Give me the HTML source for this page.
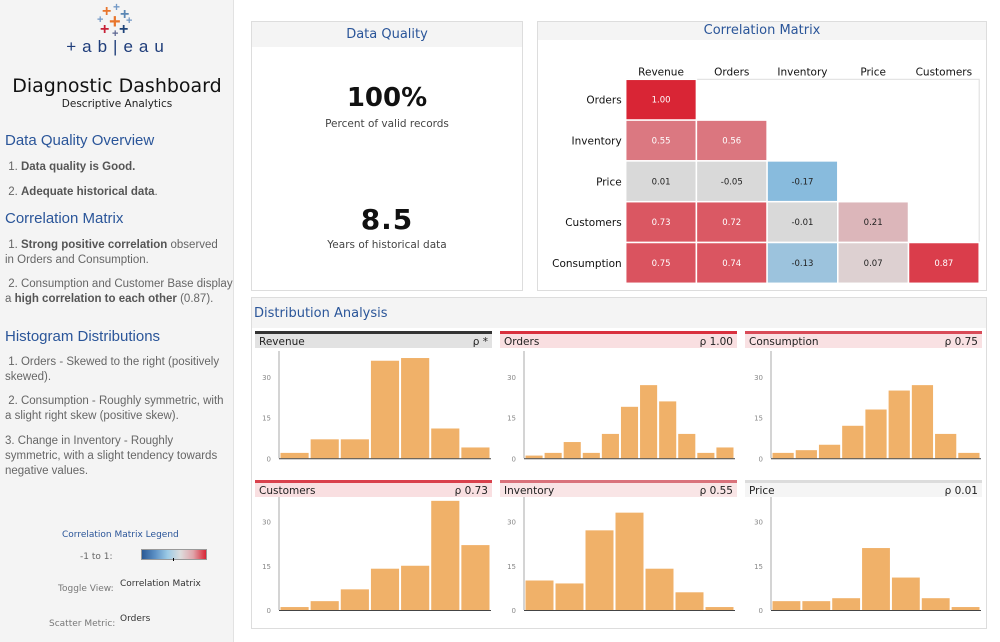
<!DOCTYPE html>
<html><head><meta charset="utf-8">
<style>
*{box-sizing:border-box;margin:0;padding:0}
body{width:1000px;height:642px;overflow:hidden;background:#fff;font-family:"DejaVu Sans","Liberation Sans",sans-serif;position:relative}
.abs{position:absolute}
#sidebar{left:0;top:0;width:234px;height:642px;background:#f4f4f4;border-right:1px solid #e2e2e2}
.h{color:#2a5599;font-size:15px;left:5px;font-family:"Liberation Sans",sans-serif}
.p{color:#666;font-size:11.5px;left:5px;width:224px;line-height:15px;font-family:"Liberation Sans",sans-serif}
.p b{color:#555}
.panel{border:1px solid #ddd;background:#fff}
.ptitle{color:#2a5599;font-size:13px;text-align:center}
.lg{font-family:"Liberation Sans",sans-serif;font-weight:bold;position:absolute;line-height:1}
</style></head><body>
<div id="sidebar" class="abs">
  <div class="abs" style="left:96px;top:3px;width:44px;height:36px">
    <span class="lg" style="left:6px;top:1px;color:#e8762d;font-size:16px">+</span>
    <span class="lg" style="left:17px;top:-2px;color:#7399c6;font-size:12px">+</span>
    <span class="lg" style="left:24px;top:4px;color:#5b87b4;font-size:16px">+</span>
    <span class="lg" style="left:1px;top:12px;color:#7399c6;font-size:11px">+</span>
    <span class="lg" style="left:13px;top:9px;color:#e8762d;font-size:20px">+</span>
    <span class="lg" style="left:30px;top:13px;color:#7399c6;font-size:11px">+</span>
    <span class="lg" style="left:4px;top:19px;color:#c72037;font-size:16px">+</span>
    <span class="lg" style="left:16px;top:26px;color:#5b6591;font-size:11px">+</span>
    <span class="lg" style="left:23px;top:19px;color:#1f447a;font-size:16px">+</span>
  </div>
  <div class="abs" style="left:66px;top:37px;width:104px;text-align:center;color:#1f3d7a;font-size:17px;letter-spacing:6px;font-family:'Liberation Sans',sans-serif">+ab|eau</div>
  <div class="abs" style="left:0;top:75px;width:234px;text-align:center;font-size:19px;color:#111">Diagnostic Dashboard</div>
  <div class="abs" style="left:0;top:98px;width:234px;text-align:center;font-size:10.5px;color:#222">Descriptive Analytics</div>
  <div class="abs h" style="top:132px">Data Quality Overview</div>
  <div class="abs p" style="top:160px">&nbsp;1. <b>Data quality is Good.</b></div>
  <div class="abs p" style="top:185px">&nbsp;2. <b>Adequate historical data</b>.</div>
  <div class="abs h" style="top:210px">Correlation Matrix</div>
  <div class="abs p" style="top:238px">&nbsp;1. <b>Strong positive correlation</b> observed in Orders and Consumption.</div>
  <div class="abs p" style="top:277px;width:230px">&nbsp;2. Consumption and Customer Base display a <b>high correlation to each other</b> (0.87).</div>
  <div class="abs h" style="top:328px">Histogram Distributions</div>
  <div class="abs p" style="top:355px">&nbsp;1. Orders - Skewed to the right (positively skewed).</div>
  <div class="abs p" style="top:394px">&nbsp;2. Consumption - Roughly symmetric, with a slight right skew (positive skew).</div>
  <div class="abs p" style="top:434px">3. Change in Inventory - Roughly symmetric, with a slight tendency towards negative values.</div>
  <div class="abs" style="left:62px;top:530px;font-size:9px;color:#2a5599">Correlation Matrix Legend</div>
  <div class="abs" style="left:80px;top:552px;font-size:9px;color:#666">-1 to 1:</div>
  <div class="abs" style="left:141px;top:549px;width:66px;height:11px;border:1px solid #999;background:linear-gradient(90deg,#2b5a95,#5b8fc4,#9ccbe6,#ddd,#e0a4aa,#d92535)"></div>
  <div class="abs" style="left:173px;top:558px;width:1px;height:3px;background:#000"></div>
  <div class="abs" style="left:58px;top:584px;font-size:9px;color:#777">Toggle View:</div>
  <div class="abs" style="left:120px;top:579px;font-size:9px;color:#333">Correlation Matrix</div>
  <div class="abs" style="left:49px;top:619px;font-size:9px;color:#777">Scatter Metric:</div>
  <div class="abs" style="left:120px;top:614px;font-size:9px;color:#333">Orders</div>
</div>

<div class="abs panel" style="left:251px;top:21px;width:272px;height:270px">
  <div class="abs ptitle" style="left:0;top:0;width:270px;height:25px;line-height:25px;background:#f4f4f4">Data Quality</div>
  <div class="abs" style="left:0;top:61px;width:270px;text-align:center;font-size:26px;font-weight:bold;color:#111">100%</div>
  <div class="abs" style="left:0;top:96px;width:270px;text-align:center;font-size:10.5px;color:#444">Percent of valid records</div>
  <div class="abs" style="left:0;top:181px;width:270px;text-align:center;font-size:28px;font-weight:bold;color:#111;letter-spacing:1px">8.5</div>
  <div class="abs" style="left:0;top:217px;width:270px;text-align:center;font-size:10.5px;color:#444">Years of historical data</div>
</div>

<div class="abs panel" style="left:537px;top:21px;width:450px;height:270px">
  <div class="abs ptitle" style="left:0;top:0;width:448px;height:18px;line-height:18px;background:#f4f4f4">Correlation Matrix</div>
</div>
<svg class="abs" id="corr" style="left:537px;top:21px" width="450" height="270"></svg>

<div class="abs panel" style="left:251px;top:297px;width:736px;height:332px;background:#fff">
  <div class="abs" style="left:0;top:0;width:734px;height:30px;background:#f4f4f4"></div>
  <div class="abs" style="left:2px;top:8px;font-size:13px;color:#2a5599">Distribution Analysis</div>
</div>
<svg class="abs" id="hist" style="left:0;top:0" width="1000" height="642"></svg>

<script>
const NS="http://www.w3.org/2000/svg";
function mk(parent,tag,attrs){const e=document.createElementNS(NS,tag);for(const k in attrs)e.setAttribute(k,attrs[k]);parent.appendChild(e);return e;}

// ---------- Correlation matrix data ----------
const colLabels=["Revenue","Orders","Inventory","Price","Customers"];
const rowLabels=["Orders","Inventory","Price","Customers","Consumption"];
const corrRows=[
 [1.00],
 [0.55,0.56],
 [0.01,-0.05,-0.17],
 [0.73,0.72,-0.01,0.21],
 [0.75,0.74,-0.13,0.07,0.87]
];
function corrColor(v){
  const g=[221,221,221];let t,to;
  if(v>=0.06){t=Math.min(1,v);to=[217,37,53];}
  else if(v<=-0.1){t=Math.min(1,-v*3);to=[54,154,221];}
  else return "rgb(217,217,217)";
  return "rgb("+g.map((c,i)=>Math.round(c+t*(to[i]-c))).join(",")+")";
}
(function(){
  const svg=document.getElementById("corr");
  const x0=88.7,y0=58.3,cw=70.7,ch=40.8;
  const frame=mk(svg,"rect",{x:x0,y:y0,width:cw*5,height:ch*5,fill:"#fff",stroke:"#ddd"});
  
  
  colLabels.forEach((c,i)=>{
    const t=mk(svg,"text",{x:x0+cw*(i+0.5),y:y0-4,"text-anchor":"middle","font-size":"10.5",fill:"#111","font-family":"DejaVu Sans, sans-serif"});
    t.textContent=c;
    
    
  });
  rowLabels.forEach((r,j)=>{
    const t=mk(svg,"text",{x:x0-4,y:y0+ch*(j+0.5)+4,"text-anchor":"end","font-size":"10.5",fill:"#111","font-family":"DejaVu Sans, sans-serif"});
    t.textContent=r;
    
    
    corrRows[j].forEach((v,i)=>{
      const rc=mk(svg,"rect",{x:x0+cw*i,y:y0+ch*j,width:cw,height:ch,fill:corrColor(v),stroke:"#fff","stroke-width":"1.5"});
      
      
      const tx=mk(svg,"text",{x:x0+cw*(i+0.5),y:y0+ch*(j+0.5)+3,"text-anchor":"middle","font-size":"8.5",fill:v>0.3?"#fff":"#222","font-family":"DejaVu Sans, sans-serif"});
      tx.textContent=v.toFixed(2);
      
      
    });
  });
})();

// ---------- Histogram data ----------
const histNames=["Revenue","Orders","Consumption","Customers","Inventory","Price"];
const histRho=["ρ *","ρ 1.00","ρ 0.75","ρ 0.73","ρ 0.55","ρ 0.01"];
const revenueCounts=[2,7,7,36,37,11,4];
const ordersCounts=[1,2,6,2,9,19,27,21,9,2,4];
const consumptionCounts=[2,3,5,12,18,25,27,9,2];
const customersCounts=[1,3,7,14,15,37,22];
const inventoryCounts=[10,9,27,33,14,6,1];
const priceCounts=[3,3,4,21,11,4,1];
const yTicks=[0,15,30];
const histSeries=[revenueCounts,ordersCounts,consumptionCounts,customersCounts,inventoryCounts,priceCounts];

(function(){
  const svg=document.getElementById("hist");
  const cols=[{hx:255,ax:279,end:491},{hx:500,ax:524,end:735},{hx:745,ax:771,end:981}];
  const rows=[{top:331,base:458.3,unit:2.71,atop:351},{top:480,base:610,unit:2.95,atop:497}];
  const barCol=[["#333","#e2e2e2"],["#d9303e","#f9dfe1"],["#d94b58","#f9e1e3"],["#d9404c","#f9dfe1"],["#d9727b","#f9e5e6"],["#dcdcdc","#f5f5f5"]];
  histNames.forEach((name,k)=>{
    const c=cols[k%3],r=rows[Math.floor(k/3)];
    const id=name.toLowerCase();
    const hw=237;
    const tb=mk(svg,"rect",{x:c.hx,y:r.top,width:hw,height:3,fill:barCol[k][0]});
    
    
    const hb=mk(svg,"rect",{x:c.hx,y:r.top+3,width:hw,height:14,fill:barCol[k][1]});
    
    
    const t1=mk(svg,"text",{x:c.hx+4,y:r.top+14,"font-size":"10.5",fill:"#222","font-family":"DejaVu Sans, sans-serif"});
    t1.textContent=name;
    
    
    const t2=mk(svg,"text",{x:c.hx+hw-4,y:r.top+14,"text-anchor":"end","font-size":"10.5",fill:"#222","font-family":"DejaVu Sans, sans-serif"});
    t2.textContent=histRho[k];
    
    
    const yS=v=>r.base-v*r.unit;
    yTicks.forEach(v=>{
      const tl=mk(svg,"text",{x:c.ax-8,y:yS(v)+3,"text-anchor":"end","font-size":"7",fill:"#888","font-family":"DejaVu Sans, sans-serif"});
      tl.textContent=v;
      
      
    });
    const data=histSeries[k];
    const bw=(c.end-c.ax-1)/data.length;
    data.forEach((v,i)=>{
      const b=mk(svg,"rect",{x:c.ax+1.5+i*bw,y:yS(v),width:bw-2,height:v*r.unit,fill:"#f0b169"});
      
      
    });
    const ya=mk(svg,"line",{x1:c.ax,y1:r.atop,x2:c.ax,y2:r.base,stroke:"#aaa","stroke-width":"1"});
    
    
    const xa=mk(svg,"line",{x1:c.ax,y1:r.base+0.5,x2:c.end,y2:r.base+0.5,stroke:"#444","stroke-width":"1"});
    
    
  });
})();
</script>
</body></html>
